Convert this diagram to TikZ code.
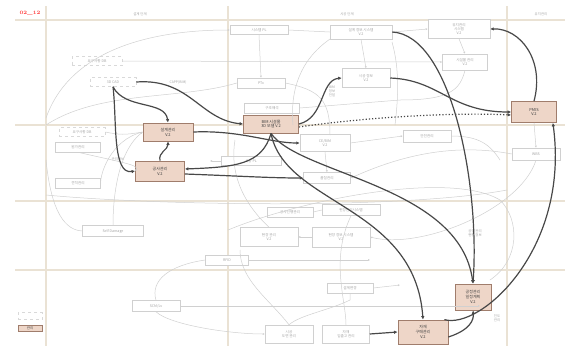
\documentclass[tikz,border=0pt]{standalone}
\usepackage{fontspec}
\usetikzlibrary{arrows.meta}
\newfontfamily\kr{Noto Sans CJK KR}
\definecolor{gridc}{RGB}{234,226,212}
\definecolor{hlfill}{RGB}{238,214,200}
\definecolor{hldraw}{RGB}{160,125,108}
\definecolor{faint}{RGB}{208,208,208}
\definecolor{fainttxt}{RGB}{165,165,165}
\definecolor{darkln}{RGB}{72,72,72}

\tikzset{
	hlbox/.style={draw=hldraw, fill=hlfill, line width=0.8pt, font=\kr\fontsize{4}{4.8}\selectfont, text=black!75, align=center, inner sep=1pt},
	fbox/.style={draw=faint, fill=white, line width=0.5pt, font=\kr\fontsize{3.6}{4.4}\selectfont, text=fainttxt, align=center, inner sep=1pt},
	dbox/.style={fbox, dashed, draw=faint!80},
	flbl/.style={font=\kr\fontsize{3.4}{4}\selectfont, text=fainttxt, inner sep=0.5pt, align=center},
	dk/.style={draw=darkln, line width=1.2pt, -{Latex[length=3.5pt,width=3.5pt]}},
	lt/.style={draw=faint, line width=0.5pt},
	lta/.style={lt, -{Latex[length=2pt,width=2pt]}},
}

\begin{document}
\begin{tikzpicture}[x=1pt,y=1pt,yscale=-1,xscale=1]
	\useasboundingbox (0,0) rectangle (571,346);
	\fill[white] (0,0) rectangle (571,346);
	% grid
	\draw[gridc, line width=1.6pt] (15,20) -- (565,20) (15,125) -- (565,125) (15,201) -- (565,201) (15,270) -- (565,270);
	\draw[gridc, line width=1.6pt] (46,6) -- (46,346) (228,6) -- (228,346) (507,6) -- (507,346);
	\node[flbl] (h1) at (140,14) {설계 단계};
	\node[flbl] (h2) at (347,14) {시공 단계};
	\node[flbl] (h3) at (541,14) {유지관리};
	\node[font=\fontsize{5}{5}\selectfont\bfseries, text=red!80, inner sep=0.5pt] (tag) at (30,13) {02\_12};

	% faint nodes
	\node[dbox, minimum width=50, minimum height=9] (req) at (97,61) {요구사항 DB};
	\node[dbox, minimum width=46, minimum height=9] (cad) at (113,82) {3D CAD};
	\node[flbl] (capp) at (178,82) {CAPP(BIM)};
	\node[fbox, minimum width=58, minimum height=9] (spl) at (259,30) {시스템 PL};
	\node[fbox, minimum width=48, minimum height=10] (ptx) at (261,83) {PTx};
	\node[fbox, minimum width=55, minimum height=10] (str) at (272,108) {구조해석};
	\node[fbox, minimum width=62, minimum height=14] (dsg) at (361,32) {설계 정보 시스템\\V.2};
	\node[fbox, minimum width=62, minimum height=19] (trn) at (459,29) {유지관리\\시스템\\V.2};
	\node[fbox, minimum width=45, minimum height=16] (fac) at (465,62) {시설물 관리\\V.2};
	\node[fbox, minimum width=48, minimum height=19] (cinfo) at (366,78) {시공 정보\\V.2};
	\node[dbox, minimum width=46, minimum height=9] (req2) at (82,132) {요구사항 DB};
	\node[fbox, minimum width=45, minimum height=10] (cost) at (78,147) {원가관리};
	\node[fbox, minimum width=45, minimum height=10] (est) at (78,183) {견적관리};
	\node[fbox, minimum width=61, minimum height=11] (self) at (113,231) {Self Damage};
	\node[fbox, minimum width=60, minimum height=9] (cpl) at (251,161) {시공 PL};
	\node[fbox, minimum width=50, minimum height=17] (ce) at (325,143) {CE/BIM\\V.2};
	\node[fbox, minimum width=47, minimum height=11] (qual) at (327,178) {품질관리};
	\node[fbox, minimum width=48, minimum height=12] (safe) at (427,136) {안전관리};
	\node[fbox, minimum width=48, minimum height=12] (wbs) at (536,154) {WBS};
	\node[fbox, minimum width=46, minimum height=10] (prog) at (290,212) {공사진행관리};
	\node[fbox, minimum width=58, minimum height=11] (site) at (351,210) {현장관리시스템};
	\node[fbox, minimum width=58, minimum height=19] (sitev) at (269,237) {현장 관리\\V.2};
	\node[fbox, minimum width=58, minimum height=20] (sinfo) at (341,237) {현장 정보 시스템\\V.2};
	\node[fbox, minimum width=43, minimum height=10] (rfid) at (227,260) {RFID};
	\node[fbox, minimum width=48, minimum height=11] (scm) at (156,306) {SCM/Lv};
	\node[fbox, minimum width=46, minimum height=10] (chg) at (350,288) {설계변경};
	\node[fbox, minimum width=48, minimum height=18] (dwg) at (289,334) {시공\\도면 관리};
	\node[fbox, minimum width=47, minimum height=18] (inout) at (346,334) {자재\\입출고 관리};
	\node[flbl] (minfo) at (118,159) {관리정보};
	\node[flbl] (binfo) at (332,91) {BIM\\정보\\전달};
	\node[flbl] (pinfo) at (475,233) {공정 관리\\현황 정보};
	\node[flbl] (jinfo) at (497,318) {진도\\관리};

	% highlighted nodes
	\node[hlbox, minimum width=50, minimum height=18] (dsgm) at (168,132) {설계관리\\V.2};
	\node[hlbox, minimum width=49, minimum height=20] (conm) at (160,171) {공사관리\\V.2};
	\node[hlbox, minimum width=55, minimum height=18] (bim) at (271,124) {BIM 시설물\\3D 모델 V.2};
	\node[hlbox, minimum width=45, minimum height=21] (pmis) at (534,112) {PMIS\\V.2};
	\node[hlbox, minimum width=36, minimum height=26] (sched) at (473,297) {공정관리\\일정계획\\V.2};
	\node[hlbox, minimum width=50, minimum height=24] (matl) at (423,332) {자재\\구매관리\\V.2};

	% faint connectors
	\draw[lta] (req.east) -- (fac.west);
	\draw[lta] (46,118) .. controls (70,50) and (150,30) .. (spl.west);
	\draw[lta] (spl.south) -- (ptx.north);
	\draw[lt] (spl.east) -- (dsg.west);
	\draw[lta] (dsg.east) -- (trn.west);
	\draw[lta] (dsg.south) -- (cinfo.north);
	\draw[lta] (trn.south) -- (fac.north);
	\draw[lt] (fac.south) .. controls (460,90) and (450,100) .. (400,100) -- (str.east);
	\draw[lt] (330,39) .. controls (300,60) and (290,90) .. (293,125);
	\draw[lt] (392,42) .. controls (400,70) and (398,100) .. (395,125);
	\draw[lt] (46,125) .. controls (100,90) and (180,100) .. (ptx.west);
	\draw[lt] (ptx.east) .. controls (320,90) and (330,100) .. (330,135);
	\draw[lta] (pmis.south) -- (wbs.north);
	\draw[lta] (wbs.west) .. controls (440,140) and (380,165) .. (qual.east);
	\draw[lta] (ce.east) -- (safe.west);
	\draw[lta] (ce.south) -- (qual.north);
	\draw[lt] (safe.east) .. controls (480,136) and (490,145) .. (500,160);
	\draw[lta] (wbs.south) .. controls (520,210) and (420,250) .. (sinfo.east);
	\draw[lta] (cost.south) .. controls (120,162) and (140,165) .. (conm.west);
	\draw[lt] (req2.east) .. controls (120,135) and (125,135) .. (dsgm.west);
	\draw[lt] (est.east) .. controls (100,175) and (110,140) .. (dsgm.west);
	\draw[lta] (self.north) .. controls (113,190) and (120,150) .. (dsgm.west);
	\draw[lt] (46,160) .. controls (50,200) and (60,230) .. (self.west);
	\draw[lt] (46,195) .. controls (150,205) and (400,210) .. (507,190);
	\draw[lta] (cpl.west) -- (210,161);
	\draw[lt] (prog.east) -- (site.west);
	\draw[lt] (sitev.north) .. controls (240,200) and (230,170) .. (235,140);
	\draw[lta] (sinfo.west) -- (sitev.east);
	\draw[lta] (rfid.east) -- (370,260);
	\draw[lt] (rfid.west) .. controls (170,265) and (150,280) .. (scm.north);
	\draw[lta] (scm.east) -- (480,306);
	\draw[lta] (scm.south) .. controls (170,325) and (230,334) .. (dwg.west);
	\draw[lta] (chg.east) -- (400,285);
	\draw[lt] (chg.south) -- (350,300) .. controls (330,310) and (300,315) .. (dwg.north);
	\draw[lt] (inout.north) .. controls (346,300) and (330,260) .. (site.south);
	\draw[lt] (dwg.north) .. controls (270,300) and (240,280) .. (240,250);
	\draw[lt] (228,230) .. controls (300,200) and (450,170) .. (500,200) .. controls (520,220) and (520,260) .. (490,280);

	% main connectors
	\draw[dk] (cad.east) .. controls (190,78) and (200,120) .. (bim.west);
	\draw[dk] (cad.south) .. controls (117,120) and (112,175) .. (conm.west);
	\draw[dk] (cad.south) .. controls (125,110) and (165,100) .. (dsgm.north);
	\draw[dk] (conm.north) .. controls (158,152) and (168,150) .. (dsgm.south);
	\draw[dk] (dsgm.east) .. controls (240,130) and (270,143) .. (ce.west);
	\draw[dk] ([yshift=3]conm.east) .. controls (240,176) and (270,178) .. (qual.west);
	\draw[dk] (bim.south) .. controls (262,165) and (235,167) .. ([yshift=-2]conm.east);
	\draw[dk] (bim.south) .. controls (285,205) and (415,205) .. (matl.north);
	\draw[dk] (bim.south) .. controls (300,175) and (460,185) .. (sched.north);
	\draw[dk] (dsg.east) .. controls (450,35) and (480,180) .. (sched.north);
	\draw[dk] (bim.east) .. controls (325,118) and (320,80) .. (cinfo.west);
	\draw[dk] (cinfo.east) .. controls (440,80) and (450,112) .. (pmis.west);
	\draw[dk] (pmis.north) .. controls (545,60) and (520,28) .. (trn.east);
	\draw[dk, dotted] ([yshift=3]bim.east) .. controls (360,118) and (450,112) .. ([yshift=3]pmis.west);
	\draw[dk] ([xshift=-4]matl.north east) .. controls (480,330) and (570,250) .. ([xshift=-4]pmis.south east);
	\draw[dk] ([yshift=5]matl.east) .. controls (470,330) and (474,320) .. (sched.south);
	\draw[dk] (inout.east) -- (matl.west);

	% legend
	\node[dbox, minimum width=24, minimum height=7] (lg1) at (30,316) {};
	\node[hlbox, minimum width=24, minimum height=6, font=\kr\fontsize{3.4}{4}\selectfont] (lg2) at (30,328) {관리};
\end{tikzpicture}
\end{document}
